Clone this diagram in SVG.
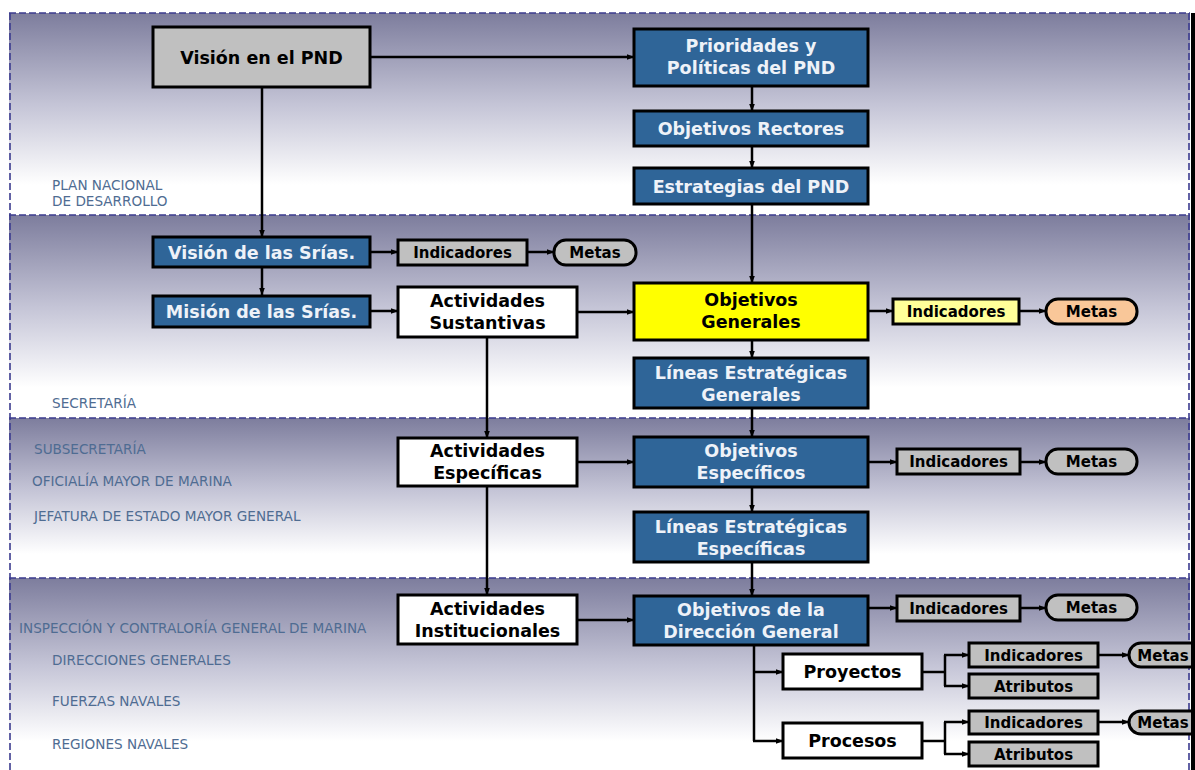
<svg xmlns="http://www.w3.org/2000/svg" width="1195" height="770" viewBox="0 0 1195 770">
<defs>
<linearGradient id="band" x1="0" y1="0" x2="0" y2="1">
<stop offset="0" stop-color="#7d7d9d"/>
<stop offset="0.45" stop-color="#c4c4d6"/>
<stop offset="0.85" stop-color="#ffffff"/>
<stop offset="1" stop-color="#ffffff"/>
</linearGradient>
<marker id="ah" viewBox="0 0 8 8" refX="7.5" refY="4" markerWidth="8" markerHeight="8" markerUnits="userSpaceOnUse" orient="auto">
<path d="M0,1 L8,4 L0,7 z" fill="#000"/>
</marker>
<style>
.box{stroke:#000;stroke-width:3}
.blue{fill:#2f6598}
.gray{fill:#c0c0c0}
.white{fill:#ffffff}
.yellow{fill:#ffff00}
.ly{fill:#ffff99}
.peach{fill:#f9c799}
.t{font-family:"DejaVu Sans",Verdana,sans-serif;font-weight:bold;font-size:17.5px;text-anchor:middle}
.tw{fill:#eef2f8}
.tb{fill:#000}
.s{font-family:"DejaVu Sans",Verdana,sans-serif;font-weight:bold;font-size:15px;text-anchor:middle;fill:#000}
.lab{font-family:"DejaVu Sans",Verdana,sans-serif;font-size:13.6px;fill:#4f6c92}
.c{stroke:#000;stroke-width:2.5;fill:none}
.ca{stroke:#000;stroke-width:2.5;fill:none;marker-end:url(#ah)}
.dash{stroke:#3b3b8f;stroke-width:1.6;stroke-dasharray:7 3;fill:none}
</style>
</defs>
<rect x="0" y="0" width="1195" height="770" fill="#ffffff"/>
<g id="bands">
<rect x="9" y="13" width="1181" height="202" fill="url(#band)"/>
<rect x="9" y="215" width="1181" height="203" fill="url(#band)"/>
<rect x="9" y="418" width="1181" height="160" fill="url(#band)"/>
<rect x="9" y="578" width="1181" height="192" fill="url(#band)"/>
<line class="dash" x1="9" y1="13" x2="1190" y2="13"/>
<line class="dash" x1="9" y1="215" x2="1190" y2="215"/>
<line class="dash" x1="9" y1="418" x2="1190" y2="418"/>
<line class="dash" x1="9" y1="578" x2="1190" y2="578"/>
<line class="dash" x1="10" y1="13" x2="10" y2="770" stroke-width="2.5"/>
<line class="dash" x1="1189" y1="13" x2="1189" y2="770"/>
</g>
<g id="labels">
<text class="lab" x="52" y="190">PLAN NACIONAL</text>
<text class="lab" x="52" y="206">DE DESARROLLO</text>
<text class="lab" x="52" y="408">SECRETARÍA</text>
<text class="lab" x="34" y="454">SUBSECRETARÍA</text>
<text class="lab" x="32" y="486">OFICIALÍA MAYOR DE MARINA</text>
<text class="lab" x="34" y="521">JEFATURA DE ESTADO MAYOR GENERAL</text>
<text class="lab" x="19" y="633">INSPECCIÓN Y CONTRALORÍA GENERAL DE MARINA</text>
<text class="lab" x="52" y="665">DIRECCIONES GENERALES</text>
<text class="lab" x="52" y="706">FUERZAS NAVALES</text>
<text class="lab" x="52" y="749">REGIONES NAVALES</text>
</g>
<g id="connectors">
<line class="ca" x1="370" y1="57" x2="634" y2="57"/>
<line class="ca" x1="262" y1="87" x2="262" y2="237"/>
<line class="ca" x1="752" y1="86" x2="752" y2="111"/>
<line class="ca" x1="752" y1="146" x2="752" y2="168"/>
<line class="ca" x1="752" y1="204" x2="752" y2="283"/>
<line class="ca" x1="370" y1="252" x2="398" y2="252"/>
<line class="ca" x1="527" y1="252" x2="554" y2="252"/>
<line class="ca" x1="262" y1="267" x2="262" y2="295"/>
<line class="ca" x1="370" y1="311" x2="398" y2="311"/>
<line class="ca" x1="577" y1="312" x2="634" y2="312"/>
<line class="ca" x1="868" y1="311" x2="893" y2="311"/>
<line class="ca" x1="1019" y1="311" x2="1046" y2="311"/>
<line class="ca" x1="752" y1="340" x2="752" y2="358"/>
<line class="ca" x1="487" y1="337" x2="487" y2="438"/>
<line class="ca" x1="752" y1="408" x2="752" y2="437"/>
<line class="ca" x1="577" y1="462" x2="634" y2="462"/>
<line class="ca" x1="868" y1="462" x2="897" y2="462"/>
<line class="ca" x1="1020" y1="462" x2="1046" y2="462"/>
<line class="ca" x1="752" y1="487" x2="752" y2="512"/>
<line class="ca" x1="487" y1="486" x2="487" y2="595"/>
<line class="ca" x1="752" y1="562" x2="752" y2="596"/>
<line class="ca" x1="577" y1="620" x2="634" y2="620"/>
<line class="ca" x1="868" y1="608" x2="897" y2="608"/>
<line class="ca" x1="1020" y1="608" x2="1046" y2="608"/>
<polyline class="c" points="754,645 754,741"/>
<line class="ca" x1="754" y1="672" x2="783" y2="672"/>
<line class="ca" x1="753" y1="741" x2="783" y2="741"/>
<line class="c" x1="922" y1="672" x2="945" y2="672"/>
<line class="c" x1="945" y1="655" x2="945" y2="686"/>
<line class="ca" x1="944" y1="655" x2="969" y2="655"/>
<line class="ca" x1="944" y1="686" x2="969" y2="686"/>
<line class="ca" x1="1098" y1="655" x2="1129" y2="655"/>
<line class="c" x1="922" y1="741" x2="945" y2="741"/>
<line class="c" x1="945" y1="722" x2="945" y2="754"/>
<line class="ca" x1="944" y1="722" x2="969" y2="722"/>
<line class="ca" x1="944" y1="754" x2="969" y2="754"/>
<line class="ca" x1="1098" y1="722" x2="1129" y2="722"/>
</g>
<g id="n-vision-pnd"><rect class="box gray" x="153" y="27" width="217" height="60"/><text class="t tb" x="261.5" y="63.5">Visión en el PND</text></g>
<g id="n-prioridades"><rect class="box blue" x="634" y="29" width="234" height="57"/><text class="t tw" x="751" y="52">Prioridades y</text><text class="t tw" x="751" y="74">Políticas del PND</text></g>
<g id="n-obj-rectores"><rect class="box blue" x="634" y="111" width="234" height="35"/><text class="t tw" x="751" y="135">Objetivos Rectores</text></g>
<g id="n-estrategias"><rect class="box blue" x="634" y="168" width="234" height="36"/><text class="t tw" x="751" y="192.5">Estrategias del PND</text></g>
<g id="n-vision-srias"><rect class="box blue" x="153" y="237" width="217" height="30"/><text class="t tw" x="261.5" y="258.5">Visión de las Srías.</text></g>
<g id="n-ind-1"><rect class="box gray" x="398" y="240" width="129" height="25"/><text class="s" x="462.5" y="258">Indicadores</text></g>
<g id="n-metas-1"><rect class="box gray" x="554" y="240" width="82" height="25" rx="12"/><text class="s" x="595" y="258">Metas</text></g>
<g id="n-mision-srias"><rect class="box blue" x="153" y="296" width="217" height="31"/><text class="t tw" x="261.5" y="318">Misión de las Srías.</text></g>
<g id="n-act-sust"><rect class="box white" x="398" y="287" width="179" height="50"/><text class="t tb" x="487.5" y="307">Actividades</text><text class="t tb" x="487.5" y="329">Sustantivas</text></g>
<g id="n-obj-gen"><rect class="box yellow" x="634" y="283" width="234" height="57"/><text class="t tb" x="751" y="306">Objetivos</text><text class="t tb" x="751" y="328">Generales</text></g>
<g id="n-ind-2"><rect class="box ly" x="893" y="299" width="126" height="25"/><text class="s" x="956" y="317">Indicadores</text></g>
<g id="n-metas-2"><rect class="box peach" x="1046" y="299" width="91" height="25" rx="12"/><text class="s" x="1091.5" y="317">Metas</text></g>
<g id="n-leg"><rect class="box blue" x="634" y="358" width="234" height="50"/><text class="t tw" x="751" y="379">Líneas Estratégicas</text><text class="t tw" x="751" y="401">Generales</text></g>
<g id="n-act-esp"><rect class="box white" x="398" y="438" width="179" height="48"/><text class="t tb" x="487.5" y="457">Actividades</text><text class="t tb" x="487.5" y="479">Específicas</text></g>
<g id="n-obj-esp"><rect class="box blue" x="634" y="437" width="234" height="50"/><text class="t tw" x="751" y="457">Objetivos</text><text class="t tw" x="751" y="479">Específicos</text></g>
<g id="n-ind-3"><rect class="box gray" x="897" y="449" width="123" height="25"/><text class="s" x="958.5" y="467">Indicadores</text></g>
<g id="n-metas-3"><rect class="box gray" x="1046" y="449" width="91" height="25" rx="12"/><text class="s" x="1091.5" y="467">Metas</text></g>
<g id="n-lee"><rect class="box blue" x="634" y="512" width="234" height="50"/><text class="t tw" x="751" y="533">Líneas Estratégicas</text><text class="t tw" x="751" y="555">Específicas</text></g>
<g id="n-act-inst"><rect class="box white" x="398" y="595" width="179" height="49"/><text class="t tb" x="487.5" y="615">Actividades</text><text class="t tb" x="487.5" y="637">Institucionales</text></g>
<g id="n-obj-dg"><rect class="box blue" x="634" y="596" width="234" height="49"/><text class="t tw" x="751" y="616">Objetivos de la</text><text class="t tw" x="751" y="638">Dirección General</text></g>
<g id="n-ind-4"><rect class="box gray" x="897" y="596" width="123" height="25"/><text class="s" x="958.5" y="614">Indicadores</text></g>
<g id="n-metas-4"><rect class="box gray" x="1046" y="595" width="91" height="25" rx="12"/><text class="s" x="1091.5" y="613">Metas</text></g>
<g id="n-proyectos"><rect class="box white" x="783" y="654" width="139" height="35"/><text class="t tb" x="852.5" y="678">Proyectos</text></g>
<g id="n-procesos"><rect class="box white" x="783" y="723" width="139" height="35"/><text class="t tb" x="852.5" y="747">Procesos</text></g>
<g id="n-ind-5"><rect class="box gray" x="969" y="643" width="129" height="24"/><text class="s" x="1033.5" y="660.5">Indicadores</text></g>
<g id="n-atr-1"><rect class="box gray" x="969" y="674" width="129" height="24"/><text class="s" x="1033.5" y="691.5">Atributos</text></g>
<g id="n-metas-5"><rect class="box gray" x="1129" y="643" width="90" height="24" rx="12"/><text class="s" x="1163" y="660.5">Metas</text></g>
<g id="n-ind-6"><rect class="box gray" x="969" y="711" width="129" height="23"/><text class="s" x="1033.5" y="728">Indicadores</text></g>
<g id="n-atr-2"><rect class="box gray" x="969" y="742" width="129" height="24"/><text class="s" x="1033.5" y="759.5">Atributos</text></g>
<g id="n-metas-6"><rect class="box gray" x="1129" y="711" width="90" height="23" rx="12"/><text class="s" x="1163" y="728">Metas</text></g>
<g id="frame-right"><rect x="1191" y="13" width="4" height="757" fill="#000"/></g>
</svg>
